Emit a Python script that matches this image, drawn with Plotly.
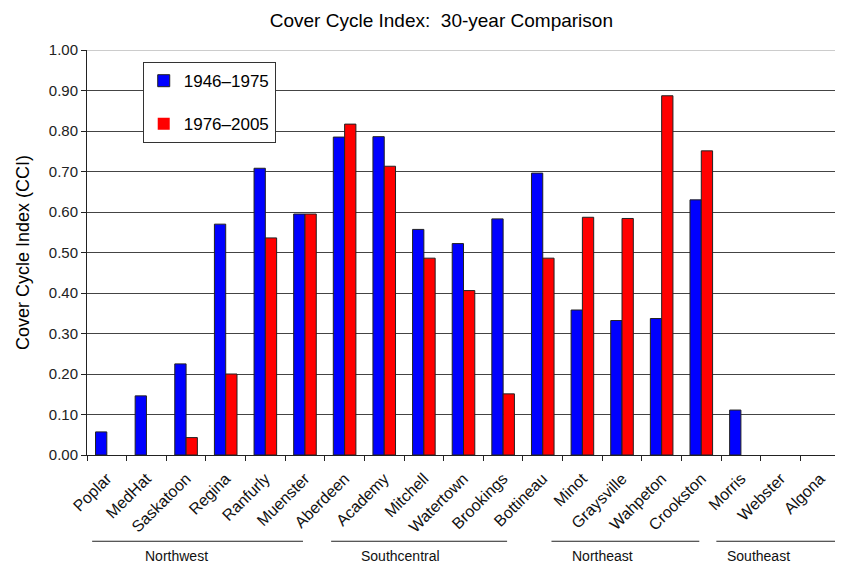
import plotly.graph_objects as go

stations = ["Poplar", "MedHat", "Saskatoon", "Regina", "Ranfurly", "Muenster",
            "Aberdeen", "Academy", "Mitchell", "Watertown", "Brookings", "Bottineau",
            "Minot", "Graysville", "Wahpeton", "Crookston", "Morris", "Webster", "Algona"]
cci_1946_1975 = [0.057, 0.146, 0.225, 0.570, 0.708, 0.595, 0.785, 0.786, 0.557, 0.522,
                 0.583, 0.696, 0.358, 0.332, 0.337, 0.630, 0.111, 0.0, 0.0]
cci_1976_2005 = [0.0, 0.0, 0.043, 0.200, 0.536, 0.595, 0.817, 0.713, 0.486, 0.406,
                 0.151, 0.486, 0.587, 0.584, 0.887, 0.751, 0.0, 0.0, 0.0]
y_ticks = [0.0, 0.1, 0.2, 0.3, 0.4, 0.5, 0.6, 0.7, 0.8, 0.9, 1.0]
regions = ["Northwest", "Southcentral", "Northeast", "Southeast"]
region_spans = [(-0.37, 4.95), (5.66, 10.1), (11.22, 14.95), (15.38, 18.39)]
region_label_x = [1.75, 7.4, 12.5, 16.45]

FONT = "Liberation Sans, Arial, sans-serif"


def outline_widths(values):
    return [1 if v > 0 else 0 for v in values]


fig = go.Figure()
fig.add_trace(go.Bar(x=stations, y=cci_1946_1975, name="1946\u20131975",
                     marker=dict(color="#0000FF",
                                 line=dict(color="#222222", width=outline_widths(cci_1946_1975))),
                     legendgroup="a"))
fig.add_trace(go.Bar(x=stations, y=cci_1976_2005, name="1976\u20132005",
                     marker=dict(color="#FF0000",
                                 line=dict(color="#222222", width=outline_widths(cci_1976_2005))),
                     legendgroup="b"))

shapes = [dict(type="line", xref="paper", yref="y", x0=0, x1=1, y0=1.0, y1=1.0,
               line=dict(color="#BBBBBB", width=1.5), layer="above")]
annotations = []
for name, (a, b), lx in zip(regions, region_spans, region_label_x):
    shapes.append(dict(type="line", xref="x", yref="paper", x0=a, x1=b,
                       y0=-0.213, y1=-0.213, line=dict(color="#222222", width=1)))
    annotations.append(dict(text=name, x=lx, y=-0.249, xref="x", yref="paper",
                            showarrow=False, yanchor="middle",
                            font=dict(family=FONT, size=14, color="#111111")))

# page has an 8px body margin, so the figure is sized/offset to compensate
fig.update_layout(
    width=835, height=557,
    margin=dict(l=79, r=3, t=42, b=110, autoexpand=False),
    paper_bgcolor="white", plot_bgcolor="white",
    title=dict(text="Cover Cycle Index:\u00a0 30-year Comparison", x=0.519, xanchor="center",
               xref="container", y=0.978, yanchor="middle",
               font=dict(family=FONT, size=19, color="#000000")),
    barmode="group", bargap=0.43, bargroupgap=0,
    font=dict(family=FONT, color="#000000"),
    legend=dict(x=0.074, y=0.97, xanchor="left", yanchor="top",
                bgcolor="white", bordercolor="#333333", borderwidth=1,
                font=dict(family=FONT, size=17, color="#000000"),
                tracegroupgap=18, itemwidth=30),
    shapes=shapes, annotations=annotations,
    xaxis=dict(type="category", tickangle=-45, ticks="outside", tickson="boundaries",
               ticklen=5, tickcolor="#222222", showline=True, linecolor="#222222",
               linewidth=1, tickfont=dict(family=FONT, size=16, color="#111111"),
               ticklabelstandoff=7,
               showgrid=False, automargin=False),
    yaxis=dict(range=[0, 1.0], tickvals=y_ticks, tickformat=".2f", ticks="outside",
               ticklen=5, tickcolor="#222222", showline=True, linecolor="#222222",
               showgrid=True, gridcolor="#444444", gridwidth=1, zeroline=False,
               automargin=False,
               tickfont=dict(family=FONT, size=15, color="#222222"),
               title=dict(text="Cover Cycle Index (CCI)", standoff=14,
                          font=dict(family=FONT, size=18, color="#000000"))),
)

fig.write_html("out.html")
